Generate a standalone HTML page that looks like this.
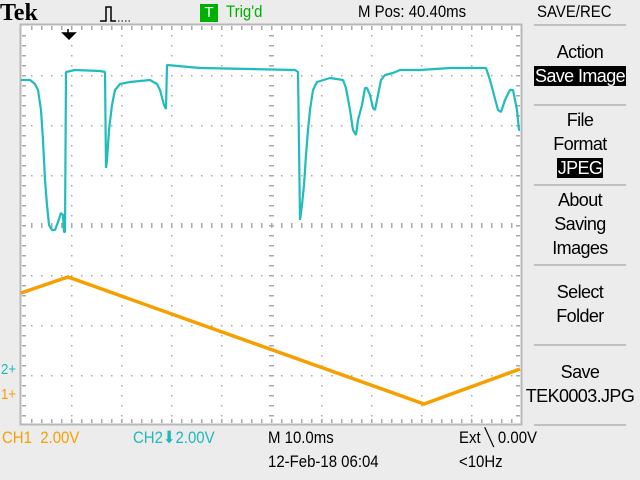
<!DOCTYPE html>
<html><head><meta charset="utf-8"><style>
body{margin:0;width:640px;height:480px;background:#ececec;overflow:hidden;position:relative;font-family:"Liberation Sans",sans-serif}
.t{position:absolute;font-size:17px;white-space:nowrap;transform-origin:0 0;transform:scaleX(0.88)}
.m{position:absolute;left:520px;width:120px;text-align:center;font-size:18px;line-height:24px;color:#000;white-space:nowrap;letter-spacing:-0.6px}
.m span.h{background:#000;color:#fff;padding:0 1px}
.sep{position:absolute;left:534px;width:92px;height:2px;background:#c0c0c0}
</style></head><body>
<div class="t" style="left:0;top:0;font-family:'Liberation Serif',serif;font-weight:bold;font-size:24px;transform:none">Tek</div>
<svg style="position:absolute;left:98px;top:4px" width="40" height="20"><path d="M2 17H8V3H13V17H18" fill="none" stroke="#000" stroke-width="1.5"/><path d="M20 17H34" stroke="#000" stroke-dasharray="1.5 2"/></svg>
<div style="position:absolute;left:200px;top:4px;width:18px;height:18px;background:#00b000;color:#fff;font-size:15px;text-align:center;line-height:18px">T</div>
<div class="t" style="left:226px;top:2px;color:#00b000">Trig'd</div>
<div class="t" style="left:358px;top:2px">M Pos: 40.40ms</div>
<div class="t" style="left:537px;top:2px">SAVE/REC</div>
<svg id="plot" style="position:absolute;left:0;top:0" width="530" height="430"></svg>
<div class="t" style="left:1px;top:361px;color:#20b8b8;font-size:15px">2+</div>
<div class="t" style="left:1px;top:386px;color:#f5a000;font-size:15px">1+</div>
<div class="sep" style="top:24px"></div><div class="sep" style="top:104px"></div><div class="sep" style="top:184px"></div><div class="sep" style="top:264px"></div><div class="sep" style="top:344px"></div><div class="sep" style="top:424px"></div>
<div class="m" style="top:40px">Action<br><span class="h">Save Image</span></div>
<div class="m" style="top:108px">File<br>Format<br><span class="h">JPEG</span></div>
<div class="m" style="top:188px">About<br>Saving<br>Images</div>
<div class="m" style="top:280px">Select<br>Folder</div>
<div class="m" style="top:360px">Save<br>TEK0003.JPG</div>
<div class="t" style="left:2px;top:428px;color:#f5a000">CH1 &nbsp;2.00V</div>
<div class="t" style="left:133px;top:428px;color:#20b8b8">CH2&#x2B07;2.00V</div>
<div class="t" style="left:268px;top:428px">M 10.0ms</div>
<div class="t" style="left:268px;top:452px">12-Feb-18 06:04</div>
<div class="t" style="left:459px;top:428px">Ext &#x2572; 0.00V</div>
<div class="t" style="left:459px;top:452px">&lt;10Hz</div>
<script>
const ch2Times=[0,1.8,2.8,3.4,4,4.4,4.8,5.2,5.6,6.2,6.8,7.4,8,8.4,8.6,8.8,9,10.8,15.8,16.8,17,17.2,17.6,18.2,18.8,19.8,21.8,25.8,27.2,27.8,28.6,29,29.2,35.8,45.8,54.8,55.4,55.8,56.2,56.6,57,57.4,57.8,58.4,59.2,61.8,64.4,65,65.8,66.4,67,67.4,68.2,68.8,69.2,69.8,70.4,70.8,71.4,72,72.8,74.4,75.8,79.8,85.8,93,93.8,94.6,95.4,96,96.8,97.8,98.4,99.2,99.6,99.8];
const ch2Volts=[11.6,11.6,11.44,11.2,10.4,9.2,7.6,6.6,5.8,5.6,5.6,5.92,6.28,6.2,5.52,5.52,11.92,12,11.96,11.92,8.08,8.4,9.6,10.6,11.2,11.44,11.52,11.6,11.44,11.2,10.6,10.44,12.2,12.08,12.04,12,11.92,6,6.6,7.4,8.6,9.6,10.4,11.2,11.52,11.68,11.6,11.28,10.4,9.6,9.4,10,10.6,11.28,11.28,11,10.48,10.4,11,11.6,11.8,11.88,12,12,12.08,12.08,11.6,11,10.4,10.32,10.8,11.2,11.2,10.4,9.6,9.6];
const ch1Times=[0,9.4,80.6,99.8];
const ch1Volts=[4.08,4.72,-0.36,1.04];
const X=t=>21+t*5, Y2=v=>370-v*25, Y1=v=>395-v*25;
const svg=document.getElementById('plot'),NS='http://www.w3.org/2000/svg';
function el(n,a){const e=document.createElementNS(NS,n);for(const k in a)e.setAttribute(k,a[k]);svg.appendChild(e);return e;}
const bg=el('rect',{x:21,y:25,width:500,height:400,fill:'#fff'});


let d='';
for(let i=1;i<10;i++){const x=21+i*50;if(i==5)continue;for(let y=35;y<425;y+=10)d+=`M${x} ${y}h1.5v1.5h-1.5z`;}
for(let j=1;j<8;j++){const y=25+j*50;if(j==4)continue;for(let x=31;x<521;x+=10)d+=`M${x} ${y}h1.5v1.5h-1.5z`;}
for(let x=31;x<521;x+=10){d+=`M${x} 223h1.5v5h-1.5z M${x} 26h1.5v4h-1.5z M${x} 419h1.5v4h-1.5z`;}
for(let y=35;y<425;y+=10){d+=`M269 ${y}h5v1.5h-5z M22 ${y}h4v1.5h-4z M516 ${y}h4v1.5h-4z`;}
const g=el('path',{d:d,fill:'#a8a8a8'});


const b=el('rect',{x:20.5,y:24.5,width:501,height:400,fill:'none',stroke:'#b8b8b8','stroke-width':2});


const p1=el('polyline',{points:ch1Times.map((t,i)=>X(t)+','+Y1(ch1Volts[i])).join(' '),fill:'none',stroke:'#f5a000','stroke-width':3.5});


const p2=el('polyline',{points:ch2Times.map((t,i)=>X(t)+','+Y2(ch2Volts[i])).join(' '),fill:'none',stroke:'#20bcbc','stroke-width':2.2,'stroke-linejoin':'bevel'});


const tr=el('path',{d:'M68 29v5M63 33h12l-6 6z',fill:'#000',stroke:'#000','stroke-width':1.5});


</script>
</body></html>
